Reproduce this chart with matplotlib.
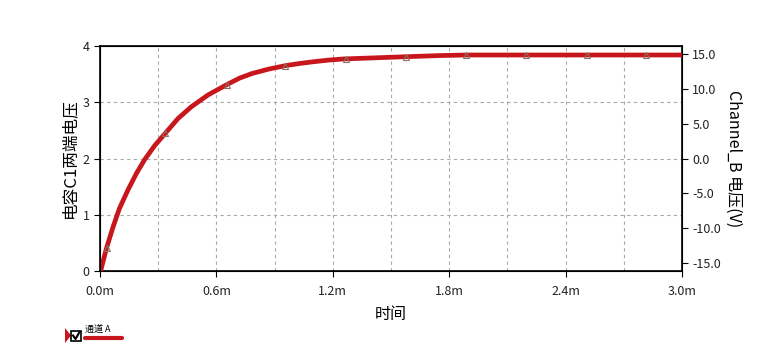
import matplotlib.pyplot as plt
from matplotlib.lines import Line2D
from matplotlib.patches import Rectangle, Polygon
from matplotlib.ticker import MultipleLocator, FormatStrFormatter

plt.rcParams['font.family'] = ['Noto Sans CJK SC', 'DejaVu Sans']

# 电容电压曲线 (时间单位 ms)
t_ms = [0, 0.004, 0.033, 0.067, 0.10, 0.144, 0.187, 0.23, 0.282, 0.342,
        0.402, 0.471, 0.557, 0.652, 0.72, 0.783, 0.87, 0.955, 1.03, 1.10,
        1.18, 1.256, 1.42, 1.58, 1.75, 1.89, 2.2, 2.5, 2.81, 3.0]
v_c1 = [0, 0.01, 0.40, 0.78, 1.11, 1.44, 1.73, 1.98, 2.23, 2.47,
        2.71, 2.92, 3.13, 3.31, 3.43, 3.51, 3.59, 3.65, 3.69, 3.72,
        3.75, 3.77, 3.79, 3.81, 3.83, 3.84, 3.84, 3.84, 3.84, 3.84]

# 三角标记的位置
mark_t = [0.035, 0.335, 0.654, 0.955, 1.269, 1.579, 1.889, 2.198, 2.508, 2.817]
mark_v = [0.41, 2.45, 3.31, 3.65, 3.77, 3.81, 3.84, 3.84, 3.84, 3.84]

xticks = [0.0, 0.6, 1.2, 1.8, 2.4, 3.0]
xticklabels = ["0.0m", "0.6m", "1.2m", "1.8m", "2.4m", "3.0m"]

W, H = 769, 359
fig = plt.figure(figsize=(W / 100, H / 100), dpi=100)
ax = fig.add_axes([100 / W, 1 - 271 / H, 582 / W, 225 / H])

ax.plot(t_ms, v_c1, color="#c8161d", linewidth=3.4, solid_capstyle="butt",
        solid_joinstyle="round", zorder=3)
ax.plot(mark_t, mark_v, linestyle="none", marker="^", markersize=4.5,
        markerfacecolor="none", markeredgecolor="#8a7060", markeredgewidth=0.8, zorder=4)

ax.set_xlim(0, 3.0)
ax.set_ylim(0, 4)
ax.set_xticks(xticks)
ax.set_xticklabels(xticklabels)
ax.xaxis.set_minor_locator(MultipleLocator(0.3))
ax.set_yticks([0, 1, 2, 3, 4])
ax.grid(True, which="both", axis="x", linestyle=(0, (3, 3)), color="#a8a8a8", linewidth=0.8)
ax.grid(True, which="major", axis="y", linestyle=(0, (3, 3)), color="#a8a8a8", linewidth=0.8)
ax.tick_params(axis="both", which="major", labelsize=9, length=4, color="black", labelcolor="#222222")
ax.tick_params(axis="x", which="minor", length=0)
ax.tick_params(axis="x", pad=6)
for s in ax.spines.values():
    s.set_linewidth(1.2)

ax.set_ylabel("电容C1两端电压", fontsize=12, labelpad=3)
ax.set_xlabel("时间", fontsize=11.5, labelpad=6)

ax2 = ax.twinx()
ax2.set_ylim(-16.15, 16.15)
ax2.set_yticks([-15, -10, -5, 0, 5, 10, 15])
ax2.yaxis.set_major_formatter(FormatStrFormatter("%.1f"))
ax2.tick_params(axis="y", labelsize=9, length=4, labelcolor="#222222")
ax2.set_ylabel("Channel_B 电压(V)", fontsize=11.5, rotation=-90, labelpad=15)

# 左下角的图例
def fx(px):
    return px / W

def fy(py):
    return 1 - py / H

fig.add_artist(Polygon([[fx(65), fy(328)], [fx(71), fy(335.5)], [fx(65), fy(343)]],
                       closed=True, facecolor="#c8161d", edgecolor="none"))
fig.add_artist(Rectangle((fx(71), fy(341)), fx(10), 10 / H, fill=False,
                         edgecolor="black", linewidth=1.2))
fig.add_artist(Line2D([fx(73), fx(75.5), fx(79.5)], [fy(335.5), fy(339), fy(332)],
                      color="black", linewidth=1.5))
fig.text(fx(85), fy(333), "通道 A", fontsize=6.5, ha="left", va="baseline")
fig.add_artist(Line2D([fx(85), fx(122)], [fy(337.5), fy(337.5)],
                      color="#c8161d", linewidth=3, solid_capstyle="round"))

fig.savefig("out.png", dpi=100)
